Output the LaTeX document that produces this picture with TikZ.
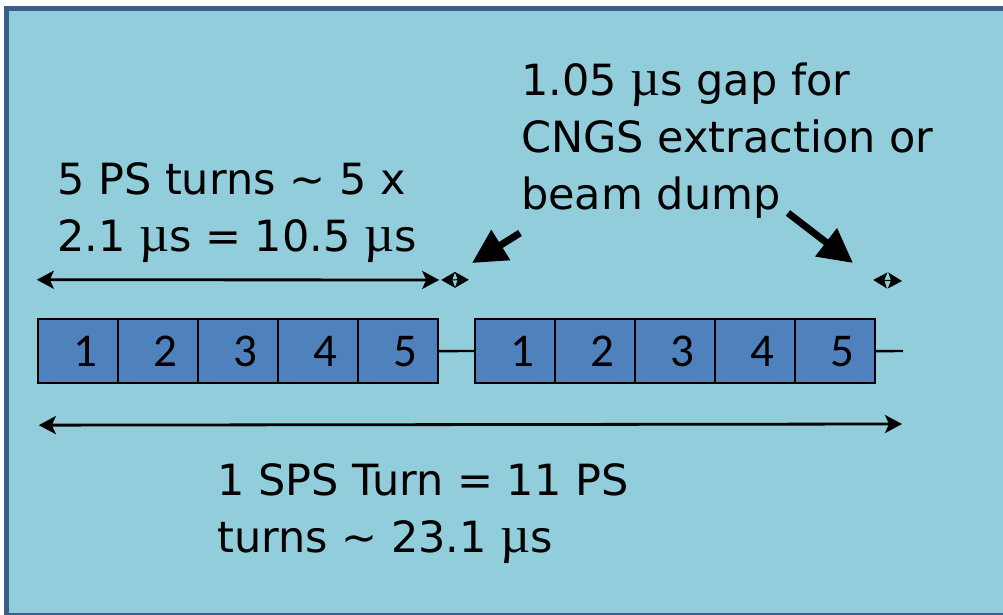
\documentclass[tikz,border=0pt]{standalone}
\usepackage{fontspec}
\setmainfont{DejaVu Sans}
\newfontfamily\numfont{Carlito}
\newfontfamily\mufont{Liberation Serif}
\usetikzlibrary{matrix,arrows.meta}

\definecolor{slidebg}{RGB}{146,205,220}
\definecolor{slideframe}{RGB}{58,95,139}
\definecolor{turnblue}{RGB}{79,129,189}

\newcommand{\musec}{{\mufont\fontsize{52}{57}\selectfont µ}s}

\tikzset{
  turns/.style={matrix of nodes, column sep=-2.4pt,
    nodes={draw, line width=2.4pt, fill=turnblue,
      minimum width=80pt, minimum height=64pt,
      font=\numfont\fontsize{47}{47}\selectfont,
      execute at begin node=\kern14pt}},
  label text/.style={anchor=base west, inner sep=0pt, align=left,
    font=\fontsize{43}{57}\selectfont},
  span/.style={<->, line width=2.8pt, >={Stealth[length=17pt,width=18pt,inset=4pt]}},
  gap/.style={<->, line width=1.2pt, >={Stealth[length=14pt,width=16pt,inset=3pt]}},
  pointer/.style={-{Triangle[length=34pt,width=34pt]}, line width=7pt},
}

\begin{document}
\begin{tikzpicture}[x=1pt,y=1pt]
  \useasboundingbox (0,0) rectangle (1003,615);
  % slide panel
  \draw[line width=5pt, draw=slideframe, fill=slidebg] (6.5,-1) rectangle (1012,606.5);

  % the two PS batches of five turns
  \matrix (lhs) [turns] at (238,264) {1 & 2 & 3 & 4 & 5\\};
  \matrix (rhs) [turns] at (675,264) {1 & 2 & 3 & 4 & 5\\};
  \coordinate (tail) at (903,264);
  \draw[line width=2.4pt] (lhs-1-5.east) -- (rhs-1-1.west);
  \draw[line width=2.4pt] (rhs-1-5.east) -- (tail);

  % dimension arrows
  \draw[span] ([yshift=38pt]lhs-1-1.north west) -- ([yshift=38pt]lhs-1-5.north east);
  \draw[gap] ([xshift=2pt,yshift=38pt]lhs-1-5.north east) -- ([xshift=-5pt,yshift=38pt]rhs-1-1.north west);
  \draw[gap] ([xshift=-3pt,yshift=38pt]rhs-1-5.north east) -- ([xshift=-1pt,yshift=70pt]tail);
  \draw[span] ([xshift=2pt,yshift=-41pt]lhs-1-1.south west) -- ([xshift=-1pt,yshift=-73pt]tail);

  % labels (base is the last line)
  \node[label text] (batch) at (57,363) {5 PS turns \textasciitilde{} 5 x\\2.1 \musec{} = 10.5 \musec};
  \node[label text] (gaptext) at (521,405) {1.05 \musec{} gap for\\CNGS extraction or\\beam dump};
  \node[label text] (sps) at (217,62) {1 SPS Turn = 11 PS\\turns \textasciitilde{} 23.1 \musec};

  % pointers to the two gaps
  \coordinate (ptrA) at (520,382);
  \coordinate (ptrB) at (788,402);
  \coordinate (gapA) at (472,352);
  \coordinate (gapB) at (853,352);
  \draw[pointer] (ptrA) -- (gapA);
  \draw[pointer] (ptrB) -- (gapB);
\end{tikzpicture}
\end{document}
